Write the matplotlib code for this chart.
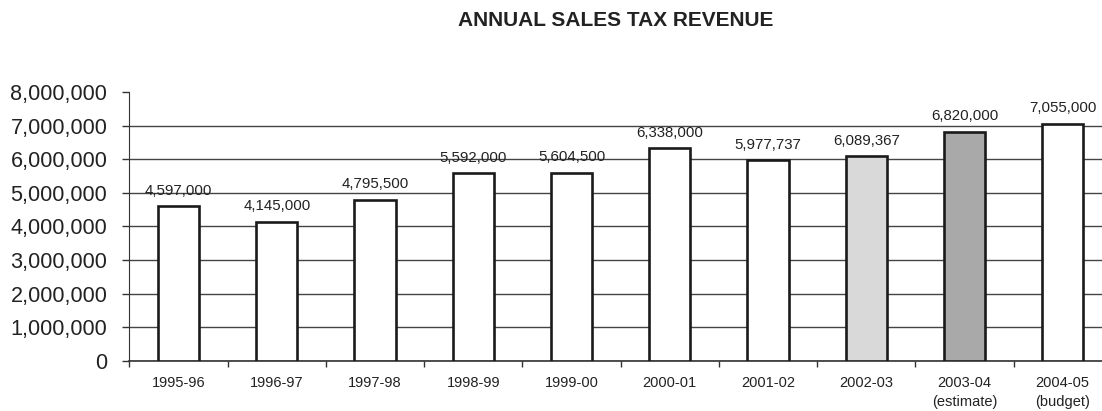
import numpy as np
import matplotlib
matplotlib.use("Agg")
import matplotlib.pyplot as plt
from matplotlib.ticker import FuncFormatter

plt.rcParams["font.family"] = ["Liberation Sans", "DejaVu Sans"]

years = ["1995-96", "1996-97", "1997-98", "1998-99", "1999-00",
         "2000-01", "2001-02", "2002-03", "2003-04\n(estimate)", "2004-05\n(budget)"]
revenue = [4597000, 4145000, 4795500, 5592000, 5604500,
           6338000, 5977737, 6089367, 6820000, 7055000]
fills = ["white"] * 7 + ["#d9d9d9", "#a9a9a9", "white"]
yticks = [0, 1000000, 2000000, 3000000, 4000000, 5000000, 6000000, 7000000, 8000000]

fig = plt.figure(figsize=(11.02, 4.11), dpi=100)
ax = fig.add_axes([0.1175, 0.1217, 0.8825, 0.6545])

x = np.arange(len(years))
ax.bar(x, revenue, width=0.42, color=fills, edgecolor="#1a1a1a", linewidth=1.9, zorder=3)

for xi, v in zip(x, revenue):
    ax.annotate(f"{v:,}", (xi, v), xytext=(0, 6), textcoords="offset points",
                ha="center", va="bottom", fontsize=10.8, color="#222222")

ax.set_ylim(0, 8000000)
ax.set_xlim(-0.5, 9.4)
ax.set_yticks(yticks)
ax.yaxis.set_major_formatter(FuncFormatter(lambda v, _: f"{int(v):,}"))
ax.tick_params(axis="y", labelsize=15.6, length=5, width=1, color="#333333",
               labelcolor="#222222", pad=11)

# category labels centred, tick marks between categories
ax.set_xticks(x)
ax.set_xticklabels(years, fontsize=10.5, color="#222222", linespacing=1.4)
ax.tick_params(axis="x", which="major", length=0, pad=11)
ax.set_xticks(np.arange(-0.5, 9.5, 1), minor=True)
ax.tick_params(axis="x", which="minor", length=4, width=1, color="#333333")

ax.grid(axis="y", color="#444444", linewidth=1.0, zorder=0)
ax.set_axisbelow(True)
ax.yaxis.get_gridlines()[-1].set_visible(False)
for s in ["top", "right"]:
    ax.spines[s].set_visible(False)
ax.spines["left"].set_color("#333333")
ax.spines["bottom"].set_color("#333333")
ax.spines["bottom"].set_linewidth(1.2)

fig.text(0.559, 0.951, "ANNUAL SALES TAX REVENUE", ha="center", va="center",
         fontsize=15, fontweight="bold", color="#222222")

fig.savefig("out.png", dpi=100)
plt.close(fig)
